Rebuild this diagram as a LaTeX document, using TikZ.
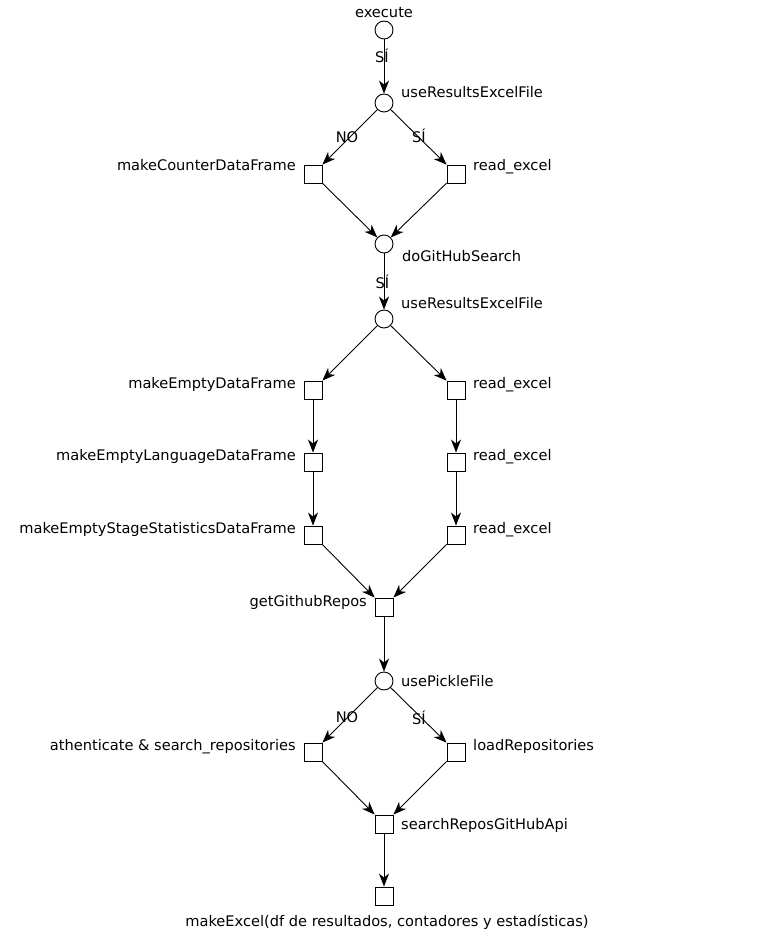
\documentclass[tikz,border=0pt]{standalone}
\usepackage{fontspec}
\setmainfont{DejaVu Sans}
\usetikzlibrary{arrows.meta}
\begin{document}
\begin{tikzpicture}[x=1pt,y=-1pt,
  every node/.style={font=\fontsize{14.6}{17}\selectfont},
  state/.style={circle,draw,line width=0.9pt,inner sep=0pt,minimum size=18pt,fill=white},
  task/.style={rectangle,draw,line width=0.9pt,inner sep=0pt,minimum size=18pt,fill=white},
  txt/.style={inner sep=0pt},
  flow/.style={draw,line width=0.9pt,-{Stealth[length=13pt,width=10pt,inset=4pt]}}
]
\fill[white] (0,0) rectangle (770,941);
\useasboundingbox (0,0) rectangle (770,941);

% nodes of the flow
\node[state] (execute) at (384,30) {};
\node[state] (useExcelA) at (384,103) {};
\node[task] (counter) at (313,174) {};
\node[task] (readA) at (456,174) {};
\node[state] (doSearch) at (384,244) {};
\node[state] (useExcelB) at (384,319) {};
\node[task] (emptyDF) at (313,390) {};
\node[task] (readB) at (456,390) {};
\node[task] (emptyLang) at (313,462) {};
\node[task] (readC) at (456,462) {};
\node[task] (emptyStage) at (313,535) {};
\node[task] (readD) at (456,535) {};
\node[task] (getRepos) at (384,607) {};
\node[state] (pickle) at (384,681) {};
\node[task] (auth) at (313,752) {};
\node[task] (loadRepos) at (456,752) {};
\node[task] (searchApi) at (384,824) {};
\node[task] (makeExcel) at (384,896) {};

% node captions
\node[txt,anchor=base] (tExecute) at (384,18) {execute};
\node[txt,anchor=base west] (tUseA) at (401,98) {useResultsExcelFile};
\node[txt,anchor=base east] (tCounter) at (296,171) {makeCounterDataFrame};
\node[txt,anchor=base west] (tReadA) at (473,171) {read\_excel};
\node[txt,anchor=base west] (tDoSearch) at (402,261) {doGitHubSearch};
\node[txt,anchor=base west] (tUseB) at (401,308) {useResultsExcelFile};
\node[txt,anchor=base east] (tEmptyDF) at (296,388) {makeEmptyDataFrame};
\node[txt,anchor=base west] (tReadB) at (473,388) {read\_excel};
\node[txt,anchor=base east] (tEmptyLang) at (296,460) {makeEmptyLanguageDataFrame};
\node[txt,anchor=base west] (tReadC) at (473,460) {read\_excel};
\node[txt,anchor=base east] (tEmptyStage) at (296,533) {makeEmptyStageStatisticsDataFrame};
\node[txt,anchor=base west] (tReadD) at (473,533) {read\_excel};
\node[txt,anchor=base east] (tGetRepos) at (367,606) {getGithubRepos};
\node[txt,anchor=base west] (tPickle) at (401,686) {usePickleFile};
\node[txt,anchor=base east] (tAuth) at (296,750) {athenticate \& search\_repositories};
\node[txt,anchor=base west] (tLoad) at (473,750) {loadRepositories};
\node[txt,anchor=base west] (tSearchApi) at (401,829) {searchReposGitHubApi};
\node[txt,anchor=base] (tMakeExcel) at (387,926) {makeExcel(df de resultados, contadores y estadísticas)};

% connectors
\path[flow] (execute) -- (useExcelA);
\path[flow] (useExcelA) -- (counter);
\path[flow] (useExcelA) -- (readA);
\path[flow] (counter) -- (doSearch);
\path[flow] (readA) -- (doSearch);
\path[flow] (doSearch) -- (useExcelB);
\path[flow] (useExcelB) -- (emptyDF);
\path[flow] (useExcelB) -- (readB);
\path[flow] (emptyDF) -- (emptyLang);
\path[flow] (emptyLang) -- (emptyStage);
\path[flow] (readB) -- (readC);
\path[flow] (readC) -- (readD);
\path[flow] (emptyStage) -- (getRepos);
\path[flow] (readD) -- (getRepos);
\path[flow] (getRepos) -- (pickle);
\path[flow] (pickle) -- (auth);
\path[flow] (pickle) -- (loadRepos);
\path[flow] (auth) -- (searchApi);
\path[flow] (loadRepos) -- (searchApi);
\path[flow] (searchApi) -- (makeExcel);

% connector labels
\node[txt,anchor=base] (eSiA) at (382,63) {SÍ};
\node[txt,anchor=base] (eNoA) at (347,143) {NO};
\node[txt,anchor=base] (eSiB) at (419,143) {SÍ};
\node[txt,anchor=base] (eSiC) at (382.5,288) {SÍ};
\node[txt,anchor=base] (eNoB) at (347,722) {NO};
\node[txt,anchor=base] (eSiD) at (419,724) {SÍ};
\end{tikzpicture}
\end{document}
